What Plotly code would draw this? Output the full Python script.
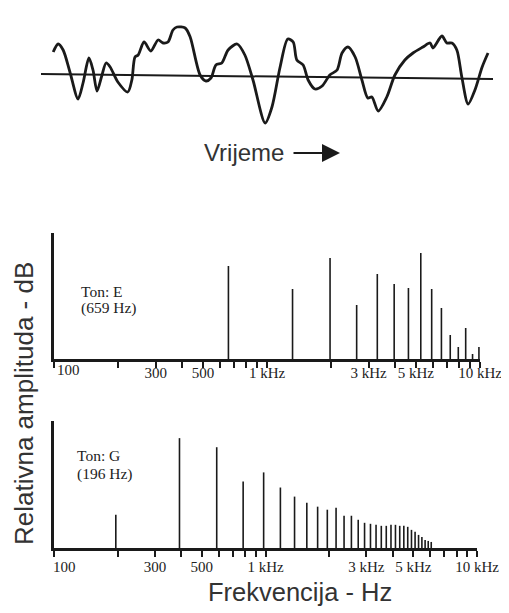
import plotly.graph_objects as go

# ---------------- data ----------------
# Waveform (time in arbitrary units 0..100, amplitude in arbitrary units)
wave_t = [2.7, 3.8, 4.9, 6.4, 8.2, 9.3, 10.6, 11.5, 12.4, 13.5, 14.4, 15.3, 17.0, 19.2, 20.1,
          20.8, 21.5, 22.8, 24.3, 25.9, 27.0, 28.1, 29.2, 30.1, 31.9, 33.0, 35.2, 36.5, 37.6,
          38.7, 40.0, 41.4, 43.4, 45.1, 46.9, 49.6, 51.1, 52.9, 54.6, 55.8, 56.6, 58.0, 59.1,
          60.6, 62.2, 63.9, 65.5, 66.6, 67.9, 69.5, 71.0, 72.3, 73.2, 74.6, 76.5, 78.3, 80.5,
          82.3, 84.5, 86.1, 86.7, 88.7, 89.8, 90.9, 92.0, 93.1, 94.5, 96.0, 97.6, 98.9]
wave_amp = [22, 30, 24, 2, -25, -9, 16, 4, -17, -1, 11, 7, -8, -18, -6,
            17, 19, 32, 23, 34, 31, 32, 44, 47, 46, 37, -1, -7, -4,
            9, 11, 24, 30, 19, -6, -49, -33, 7, 35, 32, 14, 9, -6,
            -15, -12, -1, 4, 21, 27, 17, -6, -24, -23, -37, -23, -1, 14,
            21, 27, 31, 26, 38, 31, 31, 24, -3, -30, -16, 7, 21]
zero_t = [0, 100]
zero_amp = [0, -5]

# Spectrum of tone E (659 Hz): harmonic numbers and relative amplitudes
E_f0 = 659
E_harm = list(range(1, 16))
E_amp = [93, 70, 101, 54, 85, 75, 71, 106, 70, 51, 24, 12, 31, 5, 12]

# Spectrum of tone G (196 Hz)
G_f0 = 196
G_harm = list(range(1, 32))
G_amp = [33, 109, 100, 66, 75, 60, 51, 45, 41, 38, 40, 32, 32, 28, 25, 24, 23, 22, 22, 23,
         23, 22, 22, 21, 18, 16, 13, 11, 8, 7, 6]

tick_vals = [100, 200, 300, 400, 500, 600, 700, 800, 900,
             1000, 2000, 3000, 4000, 5000, 6000, 7000, 8000, 9000, 10000]
label_map = {300: "300", 500: "500", 1000: "1 kHz", 3000: "3 kHz", 5000: "5 kHz", 10000: "10 kHz"}
tick_text = [label_map.get(v, "") for v in tick_vals]

Y_MAX = 126

# ---------------- figure ----------------
W, H = 509, 613
OFF = 8  # the page body margin shifts the figure by this many px
INK = "#1a1a1a"
SERIF = "Liberation Serif"
SANS = "Liberation Sans"


def stems(f0, harm, amp):
    xs, ys = [], []
    for n, a in zip(harm, amp):
        f = f0 * n
        xs += [f, f, None]
        ys += [0, a, None]
    return xs, ys


fig = go.Figure()

fig.add_trace(go.Scatter(x=zero_t, y=zero_amp, mode="lines", line=dict(color=INK, width=2),
                         xaxis="x", yaxis="y", hoverinfo="skip"))
fig.add_trace(go.Scatter(x=wave_t, y=wave_amp, mode="lines",
                         line=dict(color=INK, width=2.8, shape="spline", smoothing=0.8),
                         xaxis="x", yaxis="y"))

ex, ey = stems(E_f0, E_harm, E_amp)
fig.add_trace(go.Scatter(x=ex, y=ey, mode="lines", line=dict(color=INK, width=1.6),
                         xaxis="x2", yaxis="y2"))
gx, gy = stems(G_f0, G_harm, G_amp)
fig.add_trace(go.Scatter(x=gx, y=gy, mode="lines", line=dict(color=INK, width=1.6),
                         xaxis="x3", yaxis="y3"))


def px_x(p):
    return (p - OFF) / W


def px_y(p):
    return 1 - (p - OFF) / H


spec_x = dict(type="log", range=[2, 4], tickmode="array", tickvals=tick_vals, ticktext=tick_text,
              ticks="outside", ticklen=6, tickwidth=1.6, tickcolor=INK, automargin=False,
              showline=True, linewidth=2.5, linecolor=INK, showgrid=False, zeroline=False,
              tickfont=dict(family=SERIF, size=15, color="#222"))
spec_y = dict(range=[0, Y_MAX], showline=True, linewidth=3, linecolor=INK, ticks="",
              automargin=False, showticklabels=False, showgrid=False, zeroline=False)

fig.update_layout(
    width=W, height=H, autosize=False, margin=dict(l=0, r=0, t=0, b=0, pad=0),
    paper_bgcolor="white", plot_bgcolor="rgba(0,0,0,0)", showlegend=False,
    xaxis=dict(domain=[0, 1], range=[-7.30, 105.31], visible=False, automargin=False),
    yaxis=dict(domain=[px_y(138), 1], range=[-64, 66], visible=False, automargin=False),
    xaxis2=dict(domain=[px_x(54), px_x(480)], anchor="y2", ticklabelstandoff=-8, **spec_x),
    yaxis2=dict(domain=[px_y(359), px_y(233)], anchor="x2", **spec_y),
    xaxis3=dict(domain=[px_x(54), px_x(477)], anchor="y3", ticklabelstandoff=-3, **spec_x),
    yaxis3=dict(domain=[px_y(548), px_y(421)], anchor="x3", **spec_y),
)

ann = []


def txt(text, x, y, size, family, xanchor="left", color="#222", angle=0):
    ann.append(dict(text=text, x=px_x(x), y=px_y(y), xref="paper", yref="paper",
                    xanchor=xanchor, yanchor="middle", showarrow=False, textangle=angle,
                    font=dict(family=family, size=size, color=color)))


# "100" labels placed to the right of their tick as in the reference
txt("100", 55, 370, 15, SERIF)
txt("100", 51, 567, 15, SERIF)

txt("Vrijeme", 202, 152, 24, SANS, color="#333")
ann.append(dict(text="", x=px_x(340), y=px_y(153), xref="paper", yref="paper",
                ax=-48, ay=0, showarrow=True, arrowhead=2, arrowsize=1.8, arrowwidth=2,
                arrowcolor=INK))
txt("Ton: E", 79, 291, 15.5, SERIF)
txt("(659 Hz)", 79, 308, 15.5, SERIF)
txt("Ton: G", 75, 455, 15.5, SERIF)
txt("(196 Hz)", 75, 474, 15.5, SERIF)
txt("Relativna amplituda - dB", 24, 404, 26, SANS, xanchor="center", color="#333", angle=-90)
txt("Frekvencija - Hz", 300, 592, 25.5, SANS, xanchor="center", color="#333")

fig.update_layout(annotations=ann)
fig.write_html("out.html", config={"responsive": False})
